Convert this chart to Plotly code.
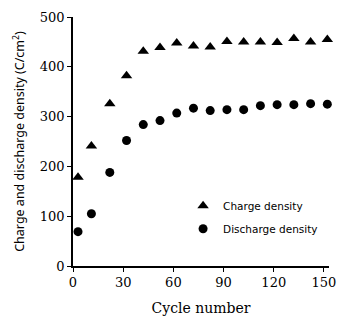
import plotly.graph_objects as go

cycles = [3, 11, 22, 32, 42, 52, 62, 72, 82, 92, 102, 112, 122, 132, 142, 152]
charge = [178, 241, 326, 382, 431, 439, 448, 442, 440, 451, 450, 450, 449, 457, 450, 455]
discharge = [69, 105, 188, 252, 284, 292, 307, 317, 312, 314, 314, 322, 324, 324, 326, 325]
x_ticks = [0, 30, 60, 90, 120, 150]
y_ticks = [0, 100, 200, 300, 400, 500]

fig = go.Figure()
fig.add_trace(go.Scatter(x=cycles, y=charge, mode="markers", name="Charge density",
                         legendgroup="a",
                         marker=dict(symbol="triangle-up", size=10, color="black"),
                         cliponaxis=False))
fig.add_trace(go.Scatter(x=cycles, y=discharge, mode="markers", name="Discharge density",
                         legendgroup="b",
                         marker=dict(symbol="circle", size=9, color="black"),
                         cliponaxis=False))

axis_font = dict(family="DejaVu Serif", size=13, color="black")
fig.update_layout(
    width=344, height=322,
    margin=dict(l=73, r=8, t=17, b=55),
    paper_bgcolor="white", plot_bgcolor="white",
    showlegend=True,
    legend=dict(x=0.43, y=0.30, xanchor="left", yanchor="top",
                bgcolor="rgba(0,0,0,0)", tracegroupgap=4,
                font=dict(family="DejaVu Sans", size=10.5, color="black")),
    xaxis=dict(range=[0, 153], tickvals=x_ticks, showgrid=False, zeroline=False,
               showline=True, linecolor="black", linewidth=1.5,
               ticks="outside", ticklen=4, tickwidth=1, tickcolor="black",
               tickfont=axis_font,
               title=dict(text="Cycle number", font=dict(family="DejaVu Serif", size=14, color="black"),
                          standoff=14)),
    yaxis=dict(range=[0, 500], tickvals=y_ticks, showgrid=False, zeroline=False,
               showline=True, linecolor="black", linewidth=1.5,
               ticks="outside", ticklen=4, tickwidth=1, tickcolor="black",
               tickfont=axis_font,
               title=dict(text="Charge and discharge density (C/cm<sup>2</sup>)",
                          font=dict(family="Noto Sans", size=12.5, color="black"),
                          standoff=12)),
)
fig.write_html("out.html", config={"displayModeBar": False},
               post_script="document.body.style.margin='0';")
